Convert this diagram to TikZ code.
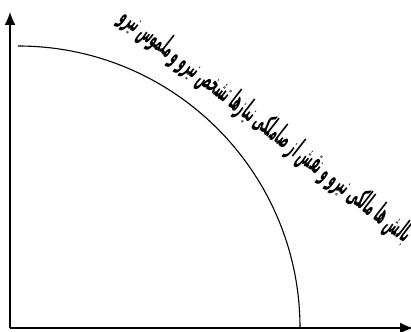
\documentclass[tikz,border=0pt]{standalone}
\usepackage{fontspec}
\newfontfamily\arabicfont[Script=Arabic]{DejaVu Sans}
\TeXXeTstate=1
\usetikzlibrary{arrows.meta,positioning,calc}

\begin{document}
\begin{tikzpicture}[x=1pt,y=-1pt]
	\useasboundingbox (0,0) rectangle (411,331);
	
	% axes
	\coordinate (o) at (10,328);
	\coordinate (ytip) at (10,12);
	\coordinate (xtip) at (413,328);
	\draw[-{Latex[length=13pt,width=11pt]},line width=1.4pt] (o)--(ytip);
	\draw[-{Latex[length=13pt,width=11pt]},line width=1.4pt] (o)--(xtip);
	
	% frontier
	\coordinate (top) at (18,46);
	\coordinate (bot) at (300,328);
	\draw[line width=1.1pt] (top) arc[start angle=-90,end angle=0,radius=282];
	
	% label along the frontier
	\node[rotate=-38,xscale=0.46,yscale=1.3,font=\arabicfont\fontsize{22}{24}\selectfont\bfseries] (label) at (266,126)
		{\beginR بالش ها مالکی نیرو و نقش از صاملکی نیازها تشخص نیرو و ملموس نیرو\endR};
\end{tikzpicture}
\end{document}
